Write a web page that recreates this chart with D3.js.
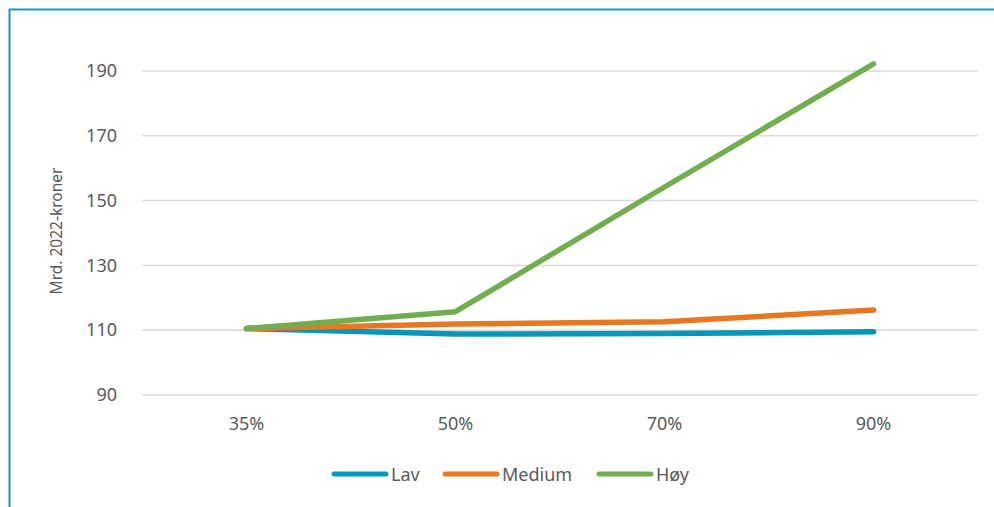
<!DOCTYPE html>
<html>
<head>
<meta charset="utf-8">
<script src="https://cdn.jsdelivr.net/npm/d3@7"></script>
<style>
  html, body { margin: 0; padding: 0; background: #fff; }
  svg { display: block; }
  text { font-family: "Noto Sans", "Open Sans", sans-serif; }
</style>
</head>
<body>
<svg id="chart" width="994" height="507"></svg>
<script>
// Andel (x-axis categories)
const categories = ["35%", "50%", "70%", "90%"];
// Kostnad i mrd. 2022-kroner per scenario
const lav    = [110.5, 108.8, 109.0, 109.5];
const medium = [110.5, 111.9, 112.6, 116.2];
const hoy    = [110.5, 115.7, 154.2, 192.2];
const yTicks = [90, 110, 130, 150, 170, 190];

const seriesNames  = ["Lav", "Medium", "Høy"];
const seriesValues = [lav, medium, hoy];
const colors = ["#0097B8", "#E87722", "#72AD4F"];

const svg = d3.select("#chart");
const W = 994, H = 507;
const textColor = "#595959";

// Frame
svg.append("line").attr("x1", 9).attr("x2", W).attr("y1", 9.5).attr("y2", 9.5)
  .attr("stroke", "#1C9AB4").attr("stroke-width", 2);
svg.append("line").attr("x1", 9.5).attr("x2", 9.5).attr("y1", 9).attr("y2", H)
  .attr("stroke", "#1C9AB4").attr("stroke-width", 2);

const x = d3.scaleBand().domain(categories).range([142, 978]);
const y = d3.scaleLinear().domain([90, 190]).range([395, 71]);

// Gridlines
svg.append("g").selectAll("line").data(yTicks).join("line")
  .attr("x1", 142).attr("x2", 978)
  .attr("y1", d => y(d)).attr("y2", d => y(d))
  .attr("stroke", "#D9D9D9").attr("stroke-width", 1.5);

// Y axis labels
const yAxis = svg.append("g").attr("transform", "translate(117,0)")
  .call(d3.axisLeft(y).tickValues(yTicks).tickSize(0).tickPadding(0));
yAxis.select(".domain").remove();
yAxis.selectAll("text").attr("fill", textColor).style("font-size", "18px")
  .style("font-family", "'Noto Sans', 'Open Sans', sans-serif");

// X axis labels
const xAxis = svg.append("g").attr("transform", "translate(0,430)")
  .call(d3.axisBottom(x).tickSize(0).tickPadding(0));
xAxis.select(".domain").remove();
xAxis.selectAll("text").attr("fill", textColor).style("font-size", "18px")
  .attr("y", 0).attr("dy", 0)
  .style("font-family", "'Noto Sans', 'Open Sans', sans-serif");

// Y axis title
svg.append("text")
  .attr("transform", "translate(62,231) rotate(-90)")
  .attr("text-anchor", "middle")
  .attr("fill", textColor).style("font-size", "15.5px")
  .text("Mrd. 2022-kroner");

// Lines
const line = d3.line()
  .x((d, i) => x(categories[i]) + x.bandwidth() / 2)
  .y(d => y(d));

svg.append("g").selectAll("path").data(seriesValues).join("path")
  .attr("d", line)
  .attr("fill", "none")
  .attr("stroke", (d, i) => colors[i])
  .attr("stroke-width", 5.5)
  .attr("stroke-linecap", "round")
  .attr("stroke-linejoin", "round");

// Legend
const legendX = [334, 445, 599];
const lg = svg.append("g").selectAll("g").data(seriesNames).join("g")
  .attr("transform", (d, i) => `translate(${legendX[i]},474)`);
lg.append("line").attr("x1", 0).attr("x2", 52).attr("y1", 0).attr("y2", 0)
  .attr("stroke", (d, i) => colors[i]).attr("stroke-width", 5)
  .attr("stroke-linecap", "round");
lg.append("text").attr("x", 57).attr("y", 6.5)
  .attr("fill", textColor).style("font-size", "18px")
  .text(d => d);
</script>
</body>
</html>
